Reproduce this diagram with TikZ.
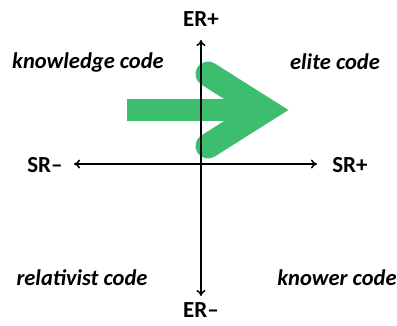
\documentclass[tikz,border=0pt]{standalone}
\usepackage{fontspec}
\setmainfont{Carlito}
\usetikzlibrary{arrows.meta}
\definecolor{codegreen}{RGB}{61,189,110}

\begin{document}
\begin{tikzpicture}[x=1pt, y=-1pt,
    every node/.style={font=\fontsize{23}{26}\selectfont\bfseries},
    code/.style={font=\fontsize{22.5}{26}\selectfont\bfseries\itshape}]
  \useasboundingbox (0,0) rectangle (397,325);

  % Movement arrow
  \fill[codegreen] (127,99) rectangle (250,121);
  \draw[codegreen, line width=25pt, line cap=round, line join=miter]
    (208,74) -- (265,110) -- (208,146);

  % Axes ends
  \coordinate (erp) at (201,40);
  \coordinate (erm) at (201,296);
  \coordinate (srm) at (74,164);
  \coordinate (srp) at (317,164);
  \draw[line width=1.5pt, {To[length=6pt,width=9pt]}-{To[length=6pt,width=9pt]}] (erm) -- (erp);
  \draw[line width=1.5pt, {To[length=6pt,width=9pt]}-{To[length=6pt,width=9pt]}] (srm) -- (srp);

  % Axis labels
  \node (erplus) at (201,19) {ER+};
  \node (erminus) at (201,310) {ER--};
  \node (srminus) at (45,165) {SR--};
  \node (srplus) at (350,165) {SR+};

  % Quadrant codes
  \node[code] (knowledge) at (88,62) {knowledge code};
  \node[code] (elite) at (335,62) {elite code};
  \node[code] (relativist) at (82,278) {relativist code};
  \node[code] (knower) at (337,278) {knower code};
\end{tikzpicture}
\end{document}
